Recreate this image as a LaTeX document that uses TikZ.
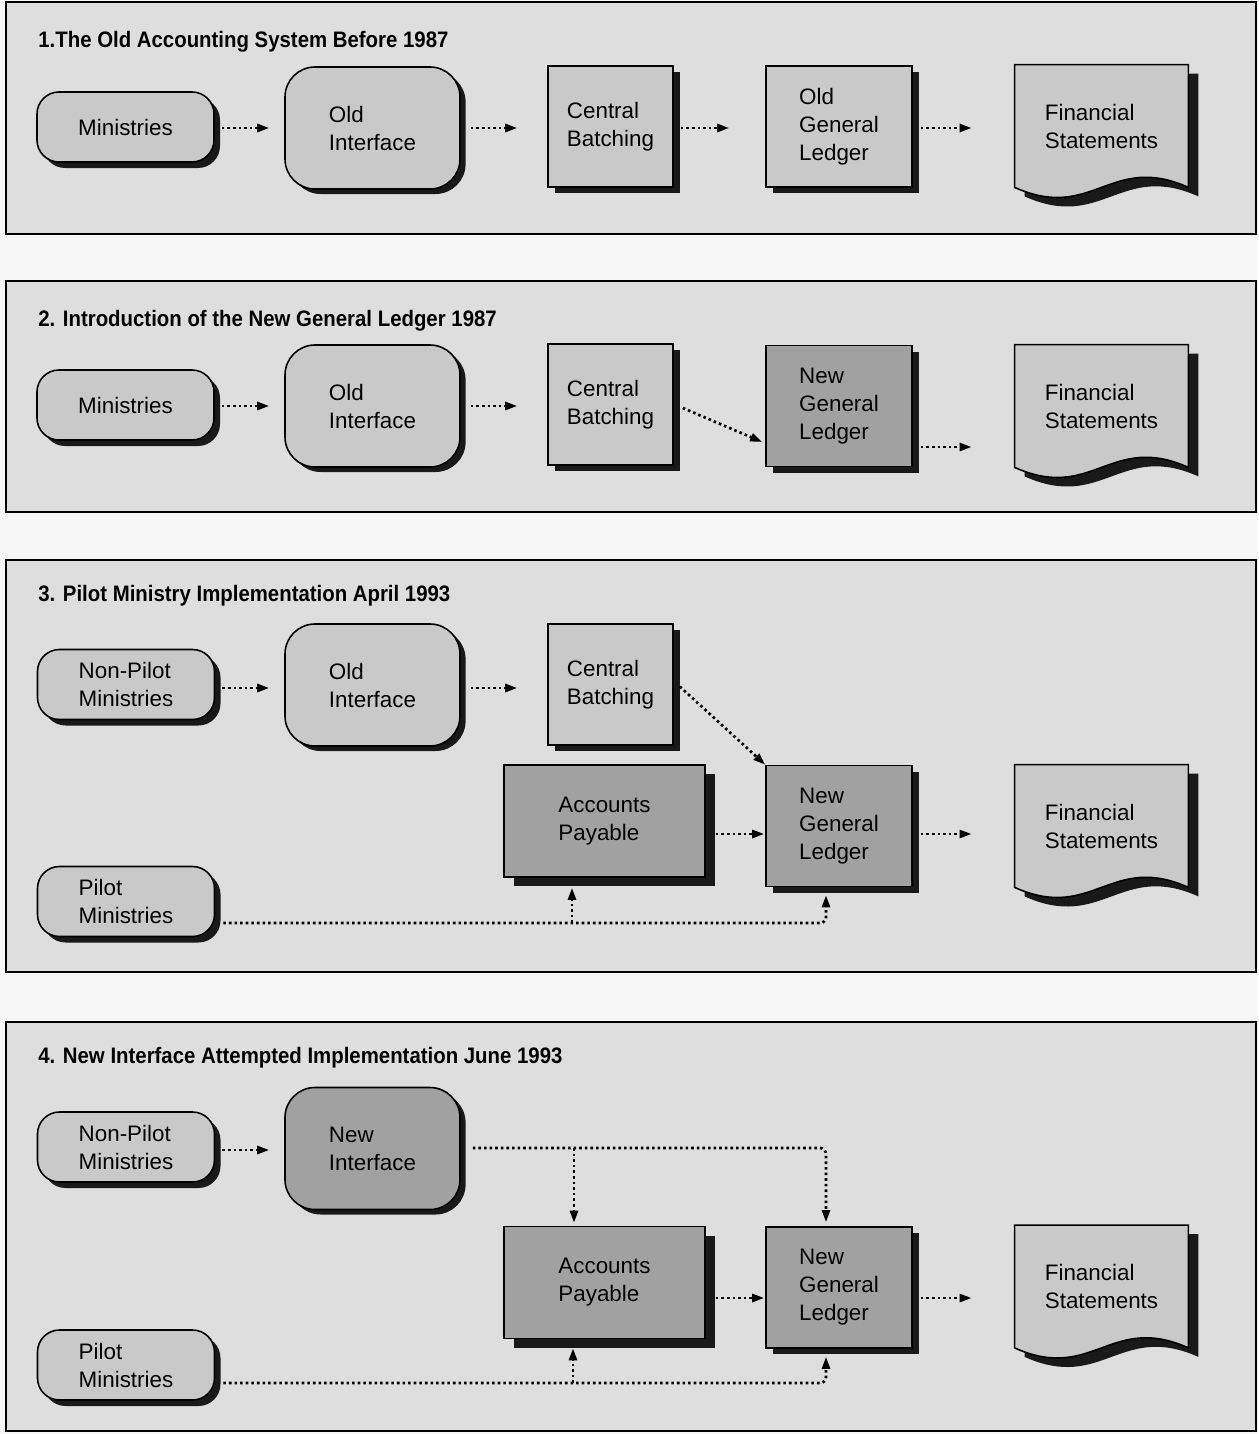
\documentclass[tikz,border=0pt]{standalone}
\usepackage{fontspec}
\setmainfont{Liberation Sans}
\usepackage{graphicx}
\usetikzlibrary{arrows.meta,shadows,calc}
\pgfdeclarelayer{panel}
\pgfdeclarelayer{shape}
\pgfsetlayers{panel,shape,main}
\definecolor{pagec}{gray}{0.97}
\definecolor{panelc}{gray}{0.87}
\definecolor{lightc}{gray}{0.79}
\definecolor{darkc}{gray}{0.63}
\definecolor{shadowc}{gray}{0.1}
\newcommand{\docbox}[2]{%
  \fill[shadowc] ($(#1.north west)+(10,9)$) -- ($(#1.north east)+(10,9)$) -- ($(#1.south east)+(10,9)$)
    .. controls ($(#1.south east)+(-68,-26)$) and ($(#1.south west)+(88,44)$) .. ($(#1.south west)+(10,9)$) -- cycle;
  \draw[black, line width=0.8pt, fill=#2] (#1.north west) -- (#1.north east) -- (#1.south east)
    .. controls ($(#1.south east)+(-78,-35)$) and ($(#1.south west)+(78,35)$) .. (#1.south west) -- cycle;
}
\begin{document}
\begin{tikzpicture}[x=0.5pt,y=-0.5pt,
  panelbox/.style={draw=black, line width=0.9pt, fill=panelc},
  ttl/.style={anchor=base west, inner sep=0pt, font=\fontsize{11.2}{14}\selectfont\bfseries},
  basebox/.style={draw=black, line width=0.8pt, align=left, inner sep=0pt,
    font=\fontsize{11.2}{14}\selectfont},
  pill/.style={basebox, rounded corners=11pt, fill=lightc, minimum width=88.5pt, minimum height=35pt,
    drop shadow={shadow xshift=3pt, shadow yshift=-3pt, fill=shadowc, opacity=1}},
  blob/.style={basebox, rounded corners=15pt, minimum width=87.5pt, minimum height=61pt,
    drop shadow={shadow xshift=2.8pt, shadow yshift=-2.5pt, fill=shadowc, opacity=1}},
  sq/.style={basebox, minimum width=62.5pt, minimum height=60.5pt,
    drop shadow={shadow xshift=3.5pt, shadow yshift=-3.2pt, fill=shadowc, opacity=1}},
  ledger/.style={sq, minimum width=73pt},
  payable/.style={basebox, fill=darkc, minimum width=100.5pt, minimum height=56pt,
    drop shadow={shadow xshift=4.8pt, shadow yshift=-4.5pt, fill=shadowc, opacity=1}},
  docnode/.style={align=left, inner sep=0pt, minimum width=86.5pt, minimum height=61pt,
    font=\fontsize{11.2}{14}\selectfont},
  conn/.style={line width=1.35pt, dash pattern=on 1.3pt off 1.5pt,
    -{Triangle[length=6pt,width=4pt]}},
]
% page and panels
\begin{pgfonlayer}{panel}
\fill[pagec] (0,0) rectangle (1258,1434);
\draw[panelbox] (6,2) rectangle (1256,234);
\draw[panelbox] (6,281) rectangle (1256,512);
\draw[panelbox] (6,560) rectangle (1256,972);
\draw[panelbox] (6,1022) rectangle (1256,1431);
\end{pgfonlayer}
\useasboundingbox (0,0) rectangle (1258,1434);

% ---------- Panel 1 ----------
\node[ttl] (t1) at (38,48) {\scalebox{0.91}[1]{1.The Old Accounting System Before 1987}};
\node[pill] (min1) at (125.5,127) {Ministries};
\node[blob, fill=lightc] (oi1) at (372.5,128) {Old\\Interface};
\node[sq, fill=lightc] (cb1) at (610.5,126.5) {Central\\Batching};
\node[ledger, fill=lightc] (gl1) at (839,126.5) {Old\\General\\Ledger};
\node[docnode] (fs1) at (1101.5,126) {Financial\\Statements};
\begin{pgfonlayer}{shape}\docbox{fs1}{lightc}\end{pgfonlayer}
\draw[conn] ($(min1.east)+(7,1)$) -- ($(oi1.west)+(-15,0)$);
\draw[conn] ($(oi1.east)+(10,0)$) -- ($(cb1.west)+(-30,1.5)$);
\draw[conn] ($(cb1.east)+(7,1.5)$) -- ($(gl1.west)+(-36,1.5)$);
\draw[conn] ($(gl1.east)+(8,1.5)$) -- ($(fs1.west)+(-43,2)$);

% ---------- Panel 2 ----------
\node[ttl] (t2) at (38,326) {\scalebox{0.91}[1]{2. Introduction of the New General Ledger 1987}};
\node[pill] (min2) at (125.5,405) {Ministries};
\node[blob, fill=lightc] (oi2) at (372.5,406) {Old\\Interface};
\node[sq, fill=lightc] (cb2) at (610.5,404.5) {Central\\Batching};
\node[ledger, fill=darkc] (ngl2) at (839,406) {New\\General\\Ledger};
\node[docnode] (fs2) at (1101.5,406) {Financial\\Statements};
\begin{pgfonlayer}{shape}\docbox{fs2}{lightc}\end{pgfonlayer}
\draw[conn] ($(min2.east)+(7,1)$) -- ($(oi2.west)+(-15,0)$);
\draw[conn] ($(oi2.east)+(10,0)$) -- ($(cb2.west)+(-30,1.5)$);
\draw[conn] ($(cb2.east)+(9,3.5)$) -- ($(ngl2.west)+(-3,36)$);
\draw[conn] ($(ngl2.east)+(8,41)$) -- ($(fs2.west)+(-43,41)$);

% ---------- Panel 3 ----------
\node[ttl] (t3) at (38,601) {\scalebox{0.91}[1]{3. Pilot Ministry Implementation April 1993}};
\node[pill] (npm3) at (126,684.5) {Non-Pilot\\Ministries};
\node[blob, fill=lightc] (oi3) at (372.5,685) {Old\\Interface};
\node[sq, fill=lightc] (cb3) at (610.5,684.5) {Central\\Batching};
\node[payable] (ap3) at (604.5,821) {Accounts\\Payable};
\node[ledger, fill=darkc] (ngl3) at (839,826) {New\\General\\Ledger};
\node[docnode] (fs3) at (1101.5,826) {Financial\\Statements};
\node[pill] (pm3) at (126,901.5) {Pilot\\Ministries};
\begin{pgfonlayer}{shape}\docbox{fs3}{lightc}\end{pgfonlayer}
\draw[conn] ($(npm3.east)+(7,3.5)$) -- ($(oi3.west)+(-15,3)$);
\draw[conn] ($(oi3.east)+(10,3)$) -- ($(cb3.west)+(-30,3.5)$);
\draw[conn] ($(cb3.east)+(6,2)$) -- (ngl3.north west);
\draw[conn] ($(ap3.east)+(10,13)$) -- ($(ngl3.west)+(-1,8)$);
\draw[conn] ($(ngl3.east)+(8,8)$) -- ($(fs3.west)+(-43,8)$);
\coordinate (j3) at (572,923);
\draw[conn, rounded corners=3pt] ($(pm3.east)+(8,21.5)$) -| ($(ngl3.south)+(-13,8)$);
\draw[conn] (j3) -- ($(ap3.south -| j3)+(0,10)$);

% ---------- Panel 4 ----------
\node[ttl] (t4) at (38,1063) {\scalebox{0.91}[1]{4. New Interface Attempted Implementation June 1993}};
\node[pill] (npm4) at (126,1147) {Non-Pilot\\Ministries};
\node[blob, fill=darkc] (ni4) at (372.5,1148.5) {New\\Interface};
\node[payable] (ap4) at (604.5,1282.5) {Accounts\\Payable};
\node[ledger, fill=darkc] (ngl4) at (839,1287.5) {New\\General\\Ledger};
\node[docnode] (fs4) at (1101.5,1286.5) {Financial\\Statements};
\node[pill] (pm4) at (126,1365) {Pilot\\Ministries};
\begin{pgfonlayer}{shape}\docbox{fs4}{lightc}\end{pgfonlayer}
\draw[conn] ($(npm4.east)+(7,3)$) -- ($(ni4.west)+(-15,1.5)$);
\coordinate (j4) at (574,1148);
\draw[conn, rounded corners=3pt] ($(ni4.east)+(12,-0.5)$) -| ($(ngl4.north)+(-13,-4)$);
\draw[conn] (j4) -- ($(ap4.north -| j4)+(0,-3)$);
\draw[conn] ($(ap4.east)+(10,15.5)$) -- ($(ngl4.west)+(-1,10.5)$);
\draw[conn] ($(ngl4.east)+(8,10.5)$) -- ($(fs4.west)+(-43,11.5)$);
\coordinate (k4) at (573,1383);
\draw[conn, rounded corners=3pt] ($(pm4.east)+(8,18)$) -| ($(ngl4.south)+(-13,8)$);
\draw[conn] (k4) -- ($(ap4.south -| k4)+(0,9)$);
\end{tikzpicture}
\end{document}
